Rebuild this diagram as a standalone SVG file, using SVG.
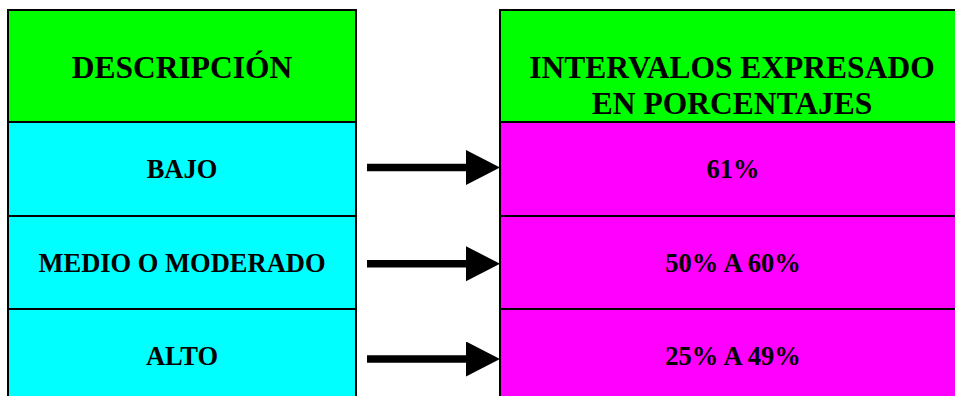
<svg xmlns="http://www.w3.org/2000/svg" width="955" height="396" viewBox="0 0 955 396">
<defs>
<style>
.cell{stroke:#000;stroke-width:2}
.hdr{fill:#00ff00}
.lft{fill:#00ffff}
.rgt{fill:#ff00ff}
.t{font-family:"Liberation Serif","Times New Roman",serif;font-weight:bold;fill:#000;text-anchor:middle}
.h{font-size:31.5px}
.r{font-size:26.5px}
.conn{stroke:#000;stroke-width:7.5;fill:none}
</style>
<marker id="ah" markerUnits="userSpaceOnUse" markerWidth="36" markerHeight="36" refX="0" refY="17.5" orient="auto" viewBox="0 0 36 36">
<path d="M0,0 L34,17.5 L0,35 Z" fill="#000"/>
</marker>
</defs>
<rect width="955" height="396" fill="#fff"/>
<g id="desc-header"><rect class="cell hdr" x="8" y="10" width="348" height="112"/><text class="t h" x="182" y="77.5">DESCRIPCIÓN</text></g>
<g id="desc-bajo"><rect class="cell lft" x="8" y="122" width="348" height="94"/><text class="t r" x="182" y="178">BAJO</text></g>
<g id="desc-medio"><rect class="cell lft" x="8" y="216" width="348" height="93"/><text class="t r" x="182" y="272">MEDIO O MODERADO</text></g>
<g id="desc-alto"><rect class="cell lft" x="8" y="309" width="348" height="100"/><text class="t r" x="182" y="365">ALTO</text></g>
<g id="int-header"><rect class="cell hdr" x="500" y="10" width="470" height="112"/><text class="t h" x="732" y="77.5">INTERVALOS EXPRESADO</text><text class="t h" x="732" y="114">EN PORCENTAJES</text></g>
<g id="int-61"><rect class="cell rgt" x="500" y="122" width="470" height="94"/><text class="t r" x="733" y="178">61%</text></g>
<g id="int-50-60"><rect class="cell rgt" x="500" y="216" width="470" height="93"/><text class="t r" x="733" y="272">50% A 60%</text></g>
<g id="int-25-49"><rect class="cell rgt" x="500" y="309" width="470" height="100"/><text class="t r" x="733" y="365">25% A 49%</text></g>
<g id="connectors">
<line class="conn" x1="367" y1="167.5" x2="466" y2="167.5" marker-end="url(#ah)"/>
<line class="conn" x1="367" y1="263.7" x2="466" y2="263.7" marker-end="url(#ah)"/>
<line class="conn" x1="367" y1="359" x2="466" y2="359" marker-end="url(#ah)"/>
</g>
</svg>
